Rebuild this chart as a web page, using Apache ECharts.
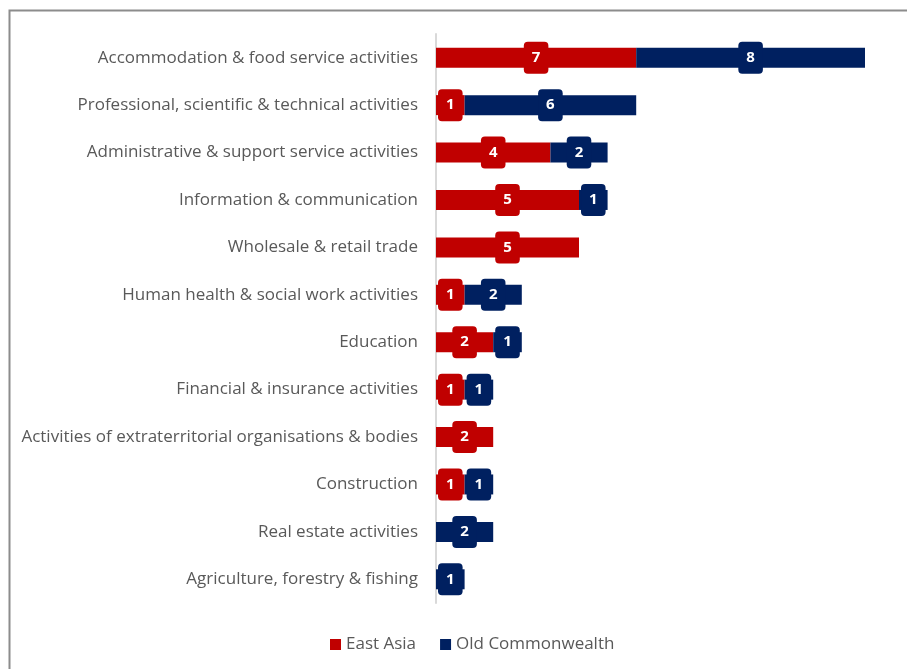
<!DOCTYPE html>
<html>
<head>
<meta charset="utf-8">
<style>
  html, body { margin: 0; padding: 0; background: #fff; }
  #chart { width: 907px; height: 669px; }
</style>
<script src="https://cdn.jsdelivr.net/npm/echarts@6/dist/echarts.min.js"></script>
</head>
<body>
<div id="chart"></div>
<script>
// Sectors, listed top to bottom as displayed
const categories = [
  'Accommodation & food service activities',
  'Professional, scientific & technical activities',
  'Administrative & support service activities',
  'Information & communication',
  'Wholesale & retail trade',
  'Human health & social work activities',
  'Education',
  'Financial & insurance activities',
  'Activities of extraterritorial organisations & bodies',
  'Construction',
  'Real estate activities',
  'Agriculture, forestry & fishing'
];
const eastAsia        = [7, 1, 4, 5, 5, 1, 2, 1, 2, 1, 0, 0];
const oldCommonwealth = [8, 6, 2, 1, 0, 2, 1, 1, 0, 1, 2, 1];
const seriesNames = ['East Asia', 'Old Commonwealth'];
const seriesColors = ['#C00000', '#002060'];

const chart = echarts.init(document.getElementById('chart'));

function makeSeries(name, values, color) {
  return {
    name: name,
    type: 'bar',
    stack: 'total',
    barWidth: 20,
    itemStyle: { color: color },
    data: values.map(v => ({ value: v, label: { show: v > 0 } })),
    label: {
      position: 'inside',
      color: '#fff',
      fontFamily: 'Open Sans',
      fontWeight: 'bold',
      fontSize: 15,
      backgroundColor: color,
      borderRadius: 4,
      padding: [8, 8, 7, 8],
      lineHeight: 17
    }
  };
}

chart.setOption({
  animation: false,
  backgroundColor: '#fff',
  graphic: [{
    type: 'rect',
    shape: { x: 9.5, y: 10.5, width: 1200, height: 1200 },
    style: { fill: 'none', stroke: '#8c8c8c', lineWidth: 2 },
    silent: true
  }],
  grid: { left: 436, right: 42, top: 34, bottom: 66 },
  legend: {
    bottom: 11,
    left: 325,
    icon: 'rect',
    itemWidth: 11,
    itemHeight: 11,
    itemGap: 24,
    textStyle: { color: '#595959', fontFamily: 'Open Sans', fontSize: 17 },
    data: seriesNames
  },
  xAxis: {
    type: 'value',
    min: 0,
    max: 15,
    show: false
  },
  yAxis: {
    type: 'category',
    inverse: true,
    data: categories,
    axisLine: { show: true, lineStyle: { color: '#d9d9d9', width: 2 } },
    axisTick: { show: false },
    axisLabel: {
      color: '#595959',
      fontFamily: 'Open Sans',
      fontSize: 17,
      margin: 18
    }
  },
  series: [
    makeSeries(seriesNames[0], eastAsia, seriesColors[0]),
    makeSeries(seriesNames[1], oldCommonwealth, seriesColors[1])
  ]
});
</script>
</body>
</html>
